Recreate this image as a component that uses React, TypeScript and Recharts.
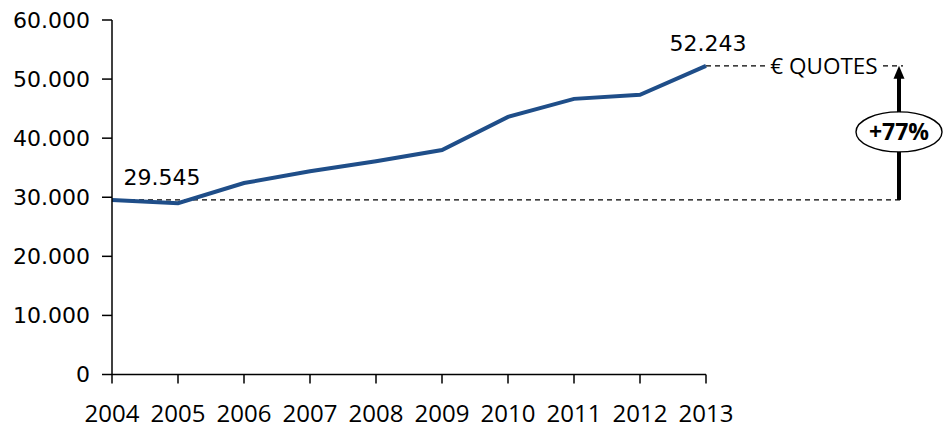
import React from "react";
import {
  LineChart,
  Line,
  XAxis,
  YAxis,
  ReferenceLine,
  ReferenceArea,
  LabelList,
} from "recharts";

const years = ["2004", "2005", "2006", "2007", "2008", "2009", "2010", "2011", "2012", "2013"];
const quotes = [29545, 29000, 32400, 34400, 36100, 38000, 43600, 46650, 47350, 52243];
const yTicks = [0, 10000, 20000, 30000, 40000, 50000, 60000];
const seriesName = "€ QUOTES";
const growthLabel = "+77%";

const data = years.map((y, i) => ({ year: y, value: quotes[i] }));
const firstValue = quotes[0];
const lastValue = quotes[quotes.length - 1];

const fmt = (v: number) => {
  const s = Math.round(v).toString();
  return s.replace(/\B(?=(\d{3})+(?!\d))/g, ".");
};

const LINE_COLOR = "#1F4E89";
const EXT = 197; // extension of annotations to the right of the plot

const BaseLineShape = (props: any) => {
  const { x1, y1, x2 } = props;
  return (
    <line x1={x1} y1={y1} x2={x2 + EXT} y2={y1} stroke="#000" strokeWidth={1.2} strokeDasharray="5 4" />
  );
};

const TopLineShape = (props: any) => {
  const { x2, y1 } = props;
  return (
    <g>
      <line x1={x2} y1={y1} x2={x2 + 62} y2={y1} stroke="#000" strokeWidth={1.2} strokeDasharray="5 4" />
      <line x1={x2 + 177} y1={y1} x2={x2 + EXT} y2={y1} stroke="#000" strokeWidth={1.2} strokeDasharray="5 4" />
      <text
        x={x2 + 118}
        y={y1}
        dy="0.36em"
        textAnchor="middle"
        fontFamily="'Open Sans', sans-serif"
        fontSize={22.5}
        fill="#000"
      >
        {seriesName}
      </text>
    </g>
  );
};

const ArrowShape = (props: any) => {
  const { x, y, width, height } = props;
  const ax = x + width + 193;
  const top = y;
  const bottom = y + height;
  const cy = (top + bottom) / 2 - 1;
  return (
    <g>
      <line x1={ax} y1={bottom} x2={ax} y2={top + 11} stroke="#000" strokeWidth={4} />
      <polygon points={`${ax - 5.5},${top + 13} ${ax + 5.5},${top + 13} ${ax},${top}`} fill="#000" />
      <ellipse cx={ax} cy={cy} rx={43} ry={20} fill="#fff" stroke="#000" strokeWidth={1.4} />
      <text
        x={ax}
        y={cy}
        dy="0.36em"
        textAnchor="middle"
        fontFamily="'Open Sans', sans-serif"
        fontWeight={700}
        fontSize={23}
        fill="#000"
      >
        {growthLabel}
      </text>
    </g>
  );
};

const PointLabel = (props: any) => {
  const { x, y, value, index } = props;
  if (index !== 0 && index !== quotes.length - 1) return null;
  const dx = index === 0 ? 50 : 2;
  return (
    <text
      x={x + dx}
      y={y - 23}
      dy="0.36em"
      textAnchor="middle"
      fontFamily="'DejaVu Sans', sans-serif"
      fontSize={22}
      fill="#000"
    >
      {fmt(value)}
    </text>
  );
};

export default function App() {
  return (
    <div style={{ position: "absolute", left: 0, top: 0, background: "#fff" }}>
      <LineChart
        width={945}
        height={430}
        data={data}
        margin={{ top: 20, right: 239, bottom: 0, left: 0 }}
      >
        <XAxis
          dataKey="year"
          height={55.5}
          tickSize={9}
          tickMargin={21}
          axisLine={{ stroke: "#000", strokeWidth: 1.5 }}
          tickLine={{ stroke: "#000", strokeWidth: 1.5 }}
          tick={{ fill: "#000", fontSize: 24, fontFamily: "'Open Sans', sans-serif" }}
          interval={0}
          padding={{ left: 0, right: 0 }}
        />
        <YAxis
          width={112}
          domain={[0, 60000]}
          ticks={yTicks}
          tickFormatter={fmt}
          tickSize={10}
          tickMargin={12}
          axisLine={{ stroke: "#000", strokeWidth: 1.5 }}
          tickLine={{ stroke: "#000", strokeWidth: 1.5 }}
          tick={{ fill: "#000", fontSize: 22, fontFamily: "'DejaVu Sans', sans-serif" }}
          interval={0}
        />
        <ReferenceLine y={firstValue} shape={BaseLineShape} ifOverflow="visible" />
        <ReferenceLine y={lastValue} shape={TopLineShape} ifOverflow="visible" />
        <ReferenceArea y1={firstValue} y2={lastValue} shape={ArrowShape} ifOverflow="visible" />
        <Line
          type="linear"
          dataKey="value"
          stroke={LINE_COLOR}
          strokeWidth={4}
          dot={false}
          activeDot={false}
          isAnimationActive={false}
        >
          <LabelList dataKey="value" content={PointLabel} />
        </Line>
      </LineChart>
    </div>
  );
}
